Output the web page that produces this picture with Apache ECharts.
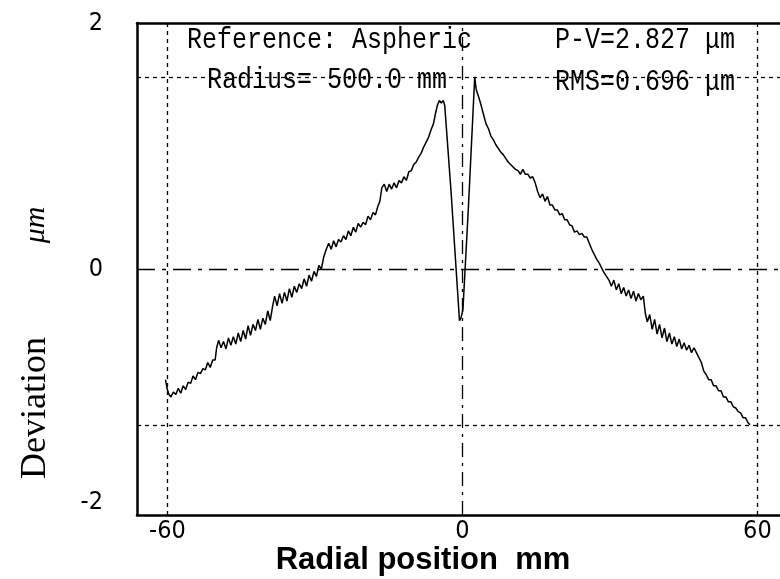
<!DOCTYPE html>
<html><head><meta charset="utf-8">
<script src="https://cdn.jsdelivr.net/npm/echarts@6/dist/echarts.min.js"></script>
<style>html,body{margin:0;padding:0;background:#fff}#c{width:780px;height:579px}</style>
</head><body><div id="c"></div>
<script>
var xTicks = [-60, 0, 60];
var yTicks = [-2, 0, 2];
var xs = [-60.4,-60.1,-59.7,-59.3,-58.8,-58.3,-57.8,-57.3,-56.8,-56.3,-55.8,-55.3,-54.8,-54.3,-53.8,-53.3,-52.8,-52.3,-51.8,-51.3,-50.8,-50.3,
-50.0,-49.6,-49.1,-48.6,-48.1,-47.6,-47.1,-46.6,-46.1,-45.6,-45.1,-44.6,-44.1,-43.6,-43.1,-42.6,-42.1,-41.6,-41.1,-40.6,-40.1,-39.6,-39.1,-38.6,-38.2,-37.7,-37.2,-36.7,-36.2,-35.7,-35.2,-34.7,-34.2,-33.7,-33.2,-32.7,-32.2,-31.7,-31.2,-30.7,-30.2,-29.7,-29.2,-28.7,-28.2,-27.7,-27.2,
-26.7,-26.2,-25.7,-25.2,-24.7,-24.2,-23.7,-23.2,-22.7,-22.2,-21.7,-21.2,-20.7,-20.2,-19.7,-19.2,-18.7,-18.2,-17.7,-17.2,-16.8,-16.4,-15.9,-15.4,-14.9,-14.4,-13.9,-13.4,-12.9,-12.4,-11.9,-11.4,-10.9,-10.4,-9.9,-9.4,-8.9,-8.4,-7.9,-7.4,-6.9,-6.4,-5.9,-5.5,-5.1,-4.7,-4.3,-3.9,-3.6,
-2.3,-0.6,-0.3,0.1,1.2,2.5,
2.8,3.2,3.6,4.0,4.4,4.8,5.3,5.8,6.3,6.8,7.3,7.8,8.3,8.8,9.3,9.8,10.3,10.8,11.3,11.8,12.3,12.8,13.3,13.8,14.3,14.8,15.3,15.8,16.3,16.8,17.3,17.8,18.3,18.8,19.3,19.8,20.3,20.8,21.3,21.8,22.3,22.8,23.3,23.8,24.3,24.8,25.3,25.8,26.3,26.8,27.3,27.8,28.3,28.8,29.3,
29.8,30.3,30.8,31.3,31.8,32.3,32.8,33.3,33.8,34.3,34.8,35.3,35.8,36.3,36.8,37.2,37.6,38.1,38.6,39.1,39.6,40.1,40.6,41.1,41.6,42.1,42.6,43.1,43.6,44.1,44.6,45.1,45.6,46.1,46.6,47.1,47.6,48.1,
48.6,49.1,49.6,50.1,50.6,51.1,51.6,52.1,52.6,53.1,53.6,54.1,54.6,55.1,55.6,56.1,56.6,57.1,57.6,58.1,58.5];
var ys = [-0.90,-0.97,-1.02,-1.04,-1.00,-1.02,-0.97,-1.01,-0.95,-0.98,-0.92,-0.93,-0.87,-0.90,-0.84,-0.85,-0.81,-0.82,-0.76,-0.80,-0.74,-0.74,
-0.64,-0.58,-0.64,-0.59,-0.65,-0.56,-0.62,-0.55,-0.61,-0.52,-0.59,-0.50,-0.57,-0.46,-0.54,-0.45,-0.50,-0.41,-0.49,-0.40,-0.45,-0.34,-0.42,-0.30,-0.22,-0.30,-0.20,-0.28,-0.19,-0.26,-0.16,-0.23,-0.14,-0.19,-0.12,-0.16,-0.08,-0.14,-0.05,-0.10,-0.02,-0.06,0.03,0.00,0.10,0.16,0.21,
0.16,0.23,0.18,0.24,0.22,0.27,0.24,0.31,0.27,0.34,0.30,0.37,0.34,0.38,0.36,0.43,0.40,0.46,0.44,0.51,0.55,0.66,0.69,0.63,0.69,0.65,0.70,0.66,0.72,0.70,0.75,0.72,0.79,0.80,0.85,0.87,0.91,0.94,0.99,1.03,1.07,1.13,1.18,1.26,1.33,1.37,1.35,1.37,1.33,
0.62,-0.42,-0.40,-0.33,0.49,1.56,
1.46,1.41,1.36,1.30,1.24,1.18,1.14,1.08,1.05,1.01,0.98,0.95,0.93,0.90,0.87,0.85,0.83,0.81,0.80,0.77,0.81,0.77,0.77,0.74,0.75,0.70,0.63,0.58,0.61,0.55,0.59,0.52,0.52,0.48,0.48,0.44,0.45,0.40,0.40,0.36,0.35,0.30,0.31,0.28,0.29,0.26,0.26,0.21,0.16,0.12,0.08,0.05,0.01,-0.03,-0.06,
-0.09,-0.14,-0.09,-0.17,-0.12,-0.20,-0.15,-0.22,-0.17,-0.24,-0.18,-0.26,-0.20,-0.25,-0.22,-0.36,-0.43,-0.37,-0.49,-0.41,-0.53,-0.45,-0.56,-0.48,-0.59,-0.52,-0.61,-0.55,-0.63,-0.57,-0.65,-0.60,-0.66,-0.62,-0.68,-0.64,-0.68,-0.72,
-0.76,-0.83,-0.86,-0.90,-0.90,-0.95,-0.95,-0.99,-0.99,-1.04,-1.04,-1.08,-1.08,-1.12,-1.13,-1.16,-1.17,-1.21,-1.21,-1.25,-1.267];
var pvMax = 1.56;
var pvMin = -1.267;
var annotations = ['Reference: Aspheric', 'P-V=2.827 μm', 'Radius= 500.0 mm', 'RMS=0.696 μm'];
var xName = 'Radial position  mm';
var yName = ['Deviation', 'μm'];

var data = xs.map(function (x, i) { return [x, ys[i]]; });
var chart = echarts.init(document.getElementById('c'), null, {renderer: 'canvas'});
var tickFont = "'Liberation Sans Narrow','DejaVu Sans Condensed',sans-serif";
var monoFont = "'Liberation Mono','DejaVu Sans Mono',monospace";
var frameLine = {show: true, onZero: false, lineStyle: {color: '#000', width: 2.5}};
function note(text, x, y) {
  return {type: 'text', x: x, y: y, scaleY: 1.18, z: 10,
    style: {text: text, x: 0, y: 0, fill: '#000', font: '25px ' + monoFont, verticalAlign: 'middle'}};
}
chart.setOption({
  animation: false,
  backgroundColor: '#fff',
  grid: {left: 137, right: 0, top: 23, bottom: 64, show: false},
  xAxis: [
    {type: 'value', min: -66.2, max: 64.6, position: 'bottom',
      axisLine: frameLine, axisTick: {show: false}, splitLine: {show: false},
      axisLabel: {customValues: xTicks, color: '#000', fontSize: 25, fontFamily: tickFont, margin: 4}},
    {type: 'value', min: -66.2, max: 64.6, position: 'top',
      axisLine: frameLine, axisTick: {show: false}, splitLine: {show: false}, axisLabel: {show: false}}
  ],
  yAxis: {type: 'value', min: -2, max: 2, interval: 2,
    axisLine: frameLine, axisTick: {show: false}, splitLine: {show: false},
    axisLabel: {customValues: yTicks, color: '#000', fontSize: 25, fontFamily: tickFont, margin: 34,
      verticalAlignMinLabel: 'bottom', verticalAlignMaxLabel: 'middle'}},
  series: [{
    type: 'line', data: data, symbol: 'none', xAxisIndex: 0, lineStyle: {color: '#000', width: 1.5}, z: 5,
    markLine: {silent: true, symbol: ['none', 'none'], label: {show: false},
      data: [
        {xAxis: xTicks[0], lineStyle: {color: '#000', width: 1.3, type: [4, 4]}},
        {xAxis: xTicks[2], lineStyle: {color: '#000', width: 1.3, type: [4, 4]}},
        {xAxis: 0, lineStyle: {color: '#000', width: 1.3, type: [14, 6, 3, 6]}},
        {yAxis: 0, lineStyle: {color: '#000', width: 1.3, type: [18, 7, 4, 7]}},
        {yAxis: pvMax, lineStyle: {color: '#000', width: 1.3, type: [4, 4]}},
        {yAxis: pvMin, lineStyle: {color: '#000', width: 1.3, type: [4, 4]}}
      ]}
  }],
  graphic: [
    note(annotations[0], 187, 40),
    note(annotations[1], 555, 40),
    note(annotations[2], 207, 80),
    note(annotations[3], 555, 82),
    {type: 'text', x: 423, y: 560, style: {text: xName, fill: '#000', font: 'bold 31px "Liberation Sans", Arial, sans-serif', align: 'center', verticalAlign: 'middle'}},
    {type: 'text', x: 36, y: 408, rotation: Math.PI / 2, style: {text: yName[0], fill: '#000', font: '36px "Liberation Serif", "Times New Roman", serif', align: 'center', verticalAlign: 'middle'}},
    {type: 'text', x: 36, y: 225, rotation: Math.PI / 2, style: {text: yName[1], fill: '#000', font: 'italic 30px "Liberation Serif", "Times New Roman", serif', align: 'center', verticalAlign: 'middle'}}
  ]
});
</script></body></html>
